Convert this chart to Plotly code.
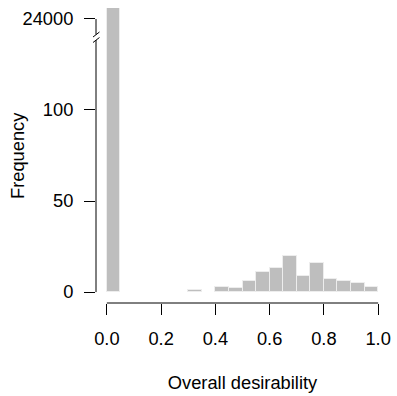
import plotly.graph_objects as go

# ---- data ----
bin_starts = [0.00, 0.05, 0.10, 0.15, 0.20, 0.25, 0.30, 0.35, 0.40, 0.45,
              0.50, 0.55, 0.60, 0.65, 0.70, 0.75, 0.80, 0.85, 0.90, 0.95]
counts = [24200, 0, 0, 0, 0, 0, 1, 0, 3, 2,
          6, 11, 13, 20, 9, 16, 7, 6, 5, 3]
bin_width = 0.05
x_ticks = [0.0, 0.2, 0.4, 0.6, 0.8, 1.0]
x_ticklabels = ["0.0", "0.2", "0.4", "0.6", "0.8", "1.0"]
low_ticks = [0, 50, 100]
high_ticks = [24000]
high_ticklabels = ["24000"]

# ---- layout geometry ----
W, H = 397, 396
ML, MR, MT, MB = 96, 6, 8, 93
PW, PH = W - ML - MR, H - MT - MB
SPLIT = 0.9153          # fraction of plot height where the axis is broken
LOW_MIN, LOW_SPAN = -6.0, 162.0
low_range = [LOW_MIN, LOW_MIN + LOW_SPAN * SPLIT]
high_range = [23860, 24110]

FONT = "Liberation Sans, Arial, Helvetica, sans-serif"
FS = 18.3
BAR_COLOR = "#BEBEBE"
EDGE = "#EDEDED"

centers = [s + bin_width / 2 for s in bin_starts]
edge_widths = [1 if c > 0 else 0 for c in counts]

fig = go.Figure()
for xa, ya in (("x", "y"), ("x2", "y2")):
    fig.add_trace(go.Bar(
        x=centers, y=counts, width=bin_width,
        marker=dict(color=BAR_COLOR, line=dict(color=EDGE, width=edge_widths)),
        xaxis=xa, yaxis=ya, showlegend=False, hoverinfo="skip",
    ))


def px(xp, yp):
    """convert page pixel position to paper fractions"""
    return (xp - ML) / PW, (MT + PH - yp) / PH


shapes = []
line = dict(color="black", width=1)
# x axis line from first to last tick
shapes.append(dict(type="line", xref="x", yref="paper", x0=x_ticks[0], x1=x_ticks[-1],
                   y0=0, y1=0, line=line))
# lower y-axis line (from 0 up to the break)
shapes.append(dict(type="line", xref="paper", yref="paper", x0=0, x1=0,
                   y0=(0 - LOW_MIN) / LOW_SPAN, y1=px(0, 40)[1], line=line))
# upper y-axis line (from 24000 tick down to the break)
shapes.append(dict(type="line", xref="paper", yref="paper", x0=0, x1=0,
                   y0=px(0, 34.5)[1], y1=px(0, 19)[1], line=line))
# break slashes
for (ax, ay, bx, by) in ((93, 37, 99.5, 32), (93, 42.5, 99.5, 37.5)):
    x0, y0 = px(ax, ay)
    x1, y1 = px(bx, by)
    shapes.append(dict(type="line", xref="paper", yref="paper", x0=x0, y0=y0,
                       x1=x1, y1=y1, line=line))

tfont = dict(family=FONT, size=FS, color="black")
axis_common = dict(showgrid=False, zeroline=False, showline=False,
                   ticks="outside", ticklen=11, tickwidth=1, tickcolor="black",
                   tickfont=tfont)

fig.update_layout(
    width=W, height=H,
    margin=dict(l=ML, r=MR, t=MT, b=MB, pad=0),
    paper_bgcolor="white", plot_bgcolor="white",
    bargap=0,
    font=tfont,
    xaxis=dict(range=[-0.04, 1.04], tickvals=x_ticks, ticktext=x_ticklabels,
               anchor="y", domain=[0, 1],
               title=dict(text="Overall desirability", standoff=28, font=tfont),
               ticklabelstandoff=8,
               **axis_common),
    xaxis2=dict(range=[-0.04, 1.04], matches="x", anchor="y2", visible=False),
    yaxis=dict(range=low_range, domain=[0, SPLIT], tickvals=low_ticks,
               ticklabelstandoff=7, anchor="x", **axis_common),
    yaxis2=dict(range=high_range, domain=[SPLIT, 1], tickvals=high_ticks,
                ticktext=high_ticklabels, ticklabelstandoff=7, anchor="x2",
                **axis_common),
    shapes=shapes,
    annotations=[dict(text="Frequency", xref="paper", yref="paper",
                      x=px(17, 0)[0], y=0.5, textangle=-90, showarrow=False,
                      xanchor="center", yanchor="middle", font=tfont)],
)

fig.write_html(
    "out.html",
    config={"displayModeBar": False},
    post_script="document.body.style.margin='0';document.body.style.overflow='hidden';",
)
